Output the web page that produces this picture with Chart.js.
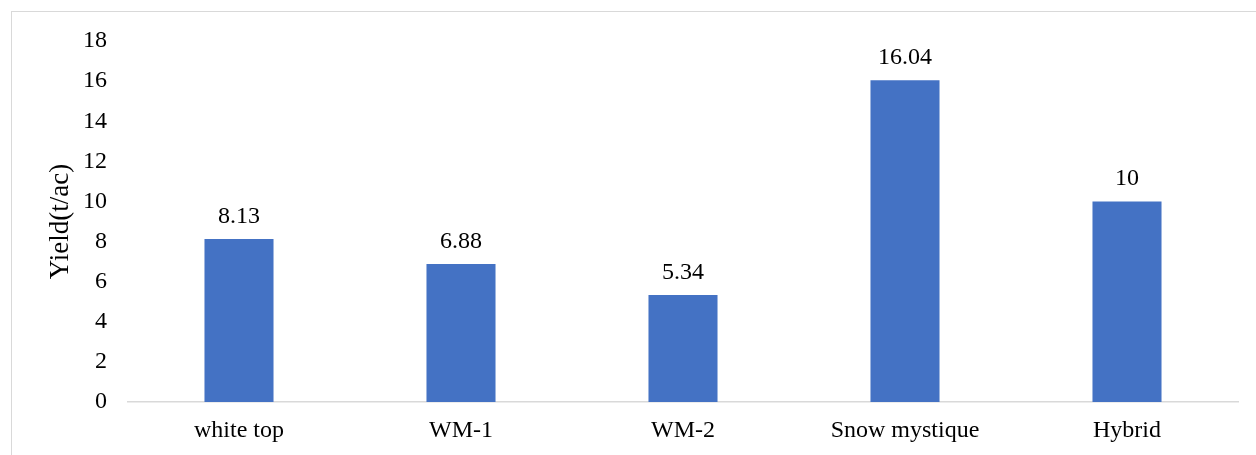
<!DOCTYPE html>
<html>
<head>
<meta charset="utf-8">
<title>Yield by variety</title>
<script src="https://cdn.jsdelivr.net/npm/chart.js@4/dist/chart.umd.min.js"></script>
<style>
  html, body { margin: 0; padding: 0; background: #ffffff; }
  #wrap { position: relative; width: 1256px; height: 455px; }
</style>
</head>
<body>
<div id="wrap"><canvas id="chart"></canvas></div>
<script>
// Varieties and their yield (t/ac)
const varieties = ['white top', 'WM-1', 'WM-2', 'Snow mystique', 'Hybrid'];
const yieldValues = [8.13, 6.88, 5.34, 16.04, 10];
const yTicks = [0, 2, 4, 6, 8, 10, 12, 14, 16, 18];
const yTitle = 'Yield(t/ac)';

const FONT = '"Liberation Serif", "Times New Roman", serif';

// Light frame around the whole figure
const framePlugin = {
  id: 'frame',
  beforeDraw(chart) {
    const ctx = chart.ctx;
    ctx.save();
    ctx.strokeStyle = '#d9d9d9';
    ctx.lineWidth = 1;
    ctx.strokeRect(11.5, 11.5, chart.width + 20, chart.height + 20);
    ctx.restore();
  }
};

// Value written above every bar
const valueLabels = {
  id: 'valueLabels',
  afterDatasetsDraw(chart) {
    const ctx = chart.ctx;
    const meta = chart.getDatasetMeta(0);
    const data = chart.data.datasets[0].data;
    ctx.save();
    ctx.font = '24px ' + FONT;
    ctx.fillStyle = '#000000';
    ctx.textAlign = 'center';
    ctx.textBaseline = 'alphabetic';
    meta.data.forEach((bar, i) => {
      ctx.fillText(String(data[i]), bar.x, bar.y - 16);
    });
    ctx.restore();
  }
};

new Chart(document.getElementById('chart'), {
  type: 'bar',
  data: {
    labels: varieties,
    datasets: [{
      data: yieldValues,
      backgroundColor: '#4472C4',
      borderWidth: 0,
      categoryPercentage: 1,
      barPercentage: 0.311
    }]
  },
  options: {
    responsive: true,
    maintainAspectRatio: false,
    animation: false,
    devicePixelRatio: 1,
    layout: { padding: { left: 0, right: 18, top: 41, bottom: 0 } },
    plugins: {
      legend: { display: false },
      tooltip: { enabled: false },
      title: { display: false }
    },
    scales: {
      x: {
        grid: { display: false, drawTicks: false },
        border: { display: true, color: '#d9d9d9', width: 1.5 },
        ticks: {
          color: '#000000',
          font: { family: FONT, size: 24 },
          padding: 14,
          maxRotation: 0,
          autoSkip: false
        },
        afterFit(scale) { scale.height = 53; }
      },
      y: {
        min: 0,
        max: 18,
        grid: { display: false, drawTicks: false },
        border: { display: false },
        afterBuildTicks(scale) {
          scale.ticks = yTicks.map(v => ({ value: v }));
        },
        ticks: {
          color: '#000000',
          font: { family: FONT, size: 24 },
          padding: 21
        },
        title: {
          display: true,
          text: yTitle,
          color: '#000000',
          font: { family: FONT, size: 27 },
          padding: { top: 45, bottom: 0 }
        },
        afterFit(scale) { scale.width = 128; }
      }
    }
  },
  plugins: [framePlugin, valueLabels]
});
</script>
</body>
</html>
